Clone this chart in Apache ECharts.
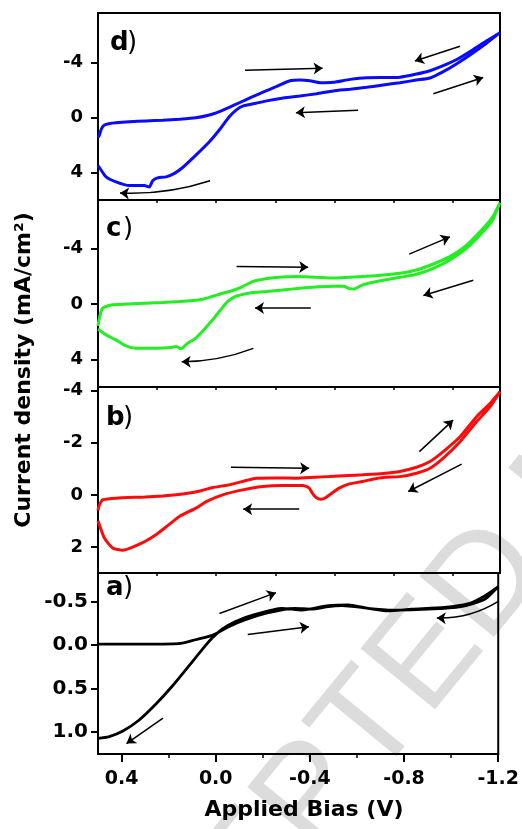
<!DOCTYPE html>
<html>
<head>
<meta charset="utf-8">
<script src="https://cdn.jsdelivr.net/npm/echarts@6/dist/echarts.min.js"></script>
<style>
  html, body { margin: 0; padding: 0; background: #fff; }
  #chart { width: 522px; height: 829px; }
</style>
</head>
<body>
<div id="chart"></div>
<script>
// Cyclic J–V scans of four films (a–d): current density vs applied bias.
// Each loop = forward scan (0.5 V -> -1.2 V) followed by the reverse scan.

const biasTicks = [0.4, 0.0, -0.4, -0.8, -1.2];
const biasMinorTicks = [0.2, -0.2, -0.6, -1.0];
const biasInnerTicks = [0.25, 0, -0.25, -0.5, -0.75, -1.0];

const dTicks = [-4, 0, 4];
const cTicks = [-4, 0, 4];
const bTicks = [-4, -2, 0, 2];
const aTicks = [-0.5, 0.0, 0.5, 1.0];

// panel d
const dForward = [
  [0.500, 1.45], [0.494, 1.29], [0.486, 0.85], [0.473, 0.56], [0.450, 0.45], [0.424, 0.39],
  [0.368, 0.32], [0.297, 0.26], [0.226, 0.20], [0.156, 0.13], [0.086, 0.03], [0.029, -0.17],
  [-0.013, -0.42], [-0.055, -0.73], [-0.100, -1.08], [-0.154, -1.50], [-0.200, -1.85],
  [-0.253, -2.23], [-0.309, -2.64], [-0.354, -2.71], [-0.396, -2.66], [-0.439, -2.52],
  [-0.495, -2.55], [-0.566, -2.76], [-0.636, -2.88], [-0.777, -2.92], [-0.847, -3.15],
  [-0.904, -3.39], [-0.960, -3.75], [-1.017, -4.20], [-1.087, -4.93], [-1.144, -5.56], [-1.200, -6.15]
];
const dReverse = [
  [-1.144, -5.40], [-1.087, -4.70], [-1.017, -3.90], [-0.960, -3.32], [-0.904, -2.86],
  [-0.847, -2.71], [-0.777, -2.52], [-0.706, -2.35], [-0.636, -2.18], [-0.566, -2.04],
  [-0.495, -1.92], [-0.425, -1.72], [-0.354, -1.55], [-0.284, -1.40], [-0.213, -1.20],
  [-0.168, -1.02], [-0.112, -0.82], [-0.084, -0.53], [-0.055, -0.04], [-0.013, 0.92],
  [0.029, 1.77], [0.086, 2.74], [0.142, 3.64], [0.177, 4.07], [0.212, 4.32], [0.248, 4.39],
  [0.269, 4.61], [0.283, 5.05], [0.304, 4.95], [0.368, 4.95], [0.424, 4.68], [0.466, 4.32],
  [0.494, 3.64], [0.500, 3.50]
];

// panel c
const cForward = [
  [0.500, 1.60], [0.497, 1.27], [0.488, 0.60], [0.480, 0.31], [0.460, 0.15], [0.438, 0.07],
  [0.368, 0.00], [0.297, -0.05], [0.226, -0.10], [0.156, -0.17], [0.100, -0.24], [0.057, -0.34],
  [0.015, -0.55], [-0.027, -0.77], [-0.070, -0.97], [-0.112, -1.25], [-0.154, -1.61],
  [-0.190, -1.75], [-0.224, -1.85], [-0.280, -1.94], [-0.337, -1.97], [-0.420, -1.93],
  [-0.495, -1.86], [-0.566, -1.93], [-0.636, -1.99], [-0.706, -2.08], [-0.777, -2.21],
  [-0.847, -2.45], [-0.918, -2.88], [-0.988, -3.41], [-1.059, -4.25], [-1.129, -5.46],
  [-1.170, -6.30], [-1.200, -7.30]
];
const cReverse = [
  [-1.170, -6.10], [-1.129, -5.22], [-1.059, -4.02], [-0.988, -3.17], [-0.918, -2.57],
  [-0.847, -2.14], [-0.777, -1.92], [-0.706, -1.70], [-0.636, -1.45], [-0.610, -1.30],
  [-0.585, -1.08], [-0.560, -1.12], [-0.537, -1.28], [-0.495, -1.27], [-0.420, -1.22],
  [-0.354, -1.13], [-0.280, -1.00], [-0.213, -0.90], [-0.168, -0.84], [-0.120, -0.72],
  [-0.084, -0.55], [-0.060, -0.32], [-0.041, -0.05], [0.015, 1.15], [0.086, 2.47],
  [0.121, 2.84], [0.149, 3.24], [0.170, 3.08], [0.191, 3.15], [0.255, 3.20], [0.339, 3.20],
  [0.382, 3.03], [0.424, 2.60], [0.466, 2.24], [0.497, 1.87], [0.500, 1.85]
];

// panel b
const bForward = [
  [0.500, 0.60], [0.497, 0.47], [0.488, 0.28], [0.480, 0.19], [0.424, 0.13], [0.300, 0.08],
  [0.226, 0.04], [0.170, 0.00], [0.114, -0.07], [0.060, -0.17], [0.015, -0.28], [-0.040, -0.36],
  [-0.084, -0.45], [-0.130, -0.56], [-0.168, -0.64], [-0.250, -0.65], [-0.337, -0.64],
  [-0.420, -0.68], [-0.478, -0.70], [-0.560, -0.74], [-0.619, -0.77], [-0.706, -0.82],
  [-0.777, -0.90], [-0.847, -1.06], [-0.904, -1.28], [-0.960, -1.66], [-1.031, -2.23],
  [-1.101, -3.00], [-1.158, -3.51], [-1.200, -3.96]
];
const bReverse = [
  [-1.158, -3.38], [-1.101, -2.81], [-1.031, -2.04], [-0.960, -1.41], [-0.904, -1.02],
  [-0.847, -0.83], [-0.777, -0.70], [-0.706, -0.67], [-0.660, -0.60], [-0.619, -0.51],
  [-0.563, -0.42], [-0.520, -0.26], [-0.485, -0.04], [-0.464, 0.10], [-0.443, 0.17],
  [-0.422, 0.10], [-0.407, -0.06], [-0.393, -0.26], [-0.366, -0.36], [-0.280, -0.36],
  [-0.196, -0.32], [-0.112, -0.19], [-0.027, 0.00], [0.040, 0.25], [0.086, 0.51],
  [0.156, 0.83], [0.205, 1.18], [0.255, 1.53], [0.300, 1.78], [0.339, 1.95], [0.396, 2.13],
  [0.438, 2.04], [0.473, 1.66], [0.497, 1.08], [0.500, 1.00]
];

// panel a
const aForward = [
  [0.500, -0.01], [0.368, -0.01], [0.226, -0.01], [0.142, -0.02], [0.086, -0.06], [0.015, -0.11],
  [-0.055, -0.21], [-0.126, -0.29], [-0.224, -0.37], [-0.337, -0.42], [-0.408, -0.41],
  [-0.478, -0.44], [-0.535, -0.45], [-0.619, -0.43], [-0.732, -0.39], [-0.831, -0.41],
  [-0.971, -0.43], [-1.070, -0.47], [-1.141, -0.56], [-1.200, -0.67]
];
const aReverse = [
  [-1.141, -0.52], [-1.042, -0.44], [-0.901, -0.41], [-0.760, -0.40], [-0.648, -0.42],
  [-0.563, -0.46], [-0.478, -0.45], [-0.366, -0.40], [-0.281, -0.42], [-0.168, -0.35],
  [-0.084, -0.27], [-0.027, -0.18], [0.015, -0.08], [0.057, 0.05], [0.114, 0.24],
  [0.184, 0.47], [0.255, 0.68], [0.325, 0.86], [0.396, 0.99], [0.452, 1.05], [0.500, 1.07]
];

// scan-direction arrows, [[from], [to]] in (bias, current density)
const dArrows = [
  [[-0.122, -3.42], [-0.450, -3.56]],
  [[-0.600, -0.51], [-0.337, -0.34]],
  [[-1.031, -5.16], [-0.840, -4.09]],
  [[-0.918, -1.72], [-1.129, -2.89]]
];
const dCurvedArrows = [[[0.026, 4.60], [0.407, 5.50]]];

const cArrows = [
  [[-0.086, -2.70], [-0.389, -2.65]],
  [[-0.400, 0.30], [-0.164, 0.30]],
  [[-0.816, -3.59], [-0.988, -4.84]],
  [[-1.087, -1.71], [-0.876, -0.61]]
];
const cCurvedArrows = [[[-0.157, 3.21], [0.146, 4.18]]];

const bArrows = [
  [[-0.062, -1.06], [-0.393, -1.02]],
  [[-0.351, 0.55], [-0.114, 0.55]],
  [[-0.859, -1.66], [-1.002, -2.87]],
  [[-1.038, -1.18], [-0.812, -0.13]]
];
const bCurvedArrows = [];

const aArrows = [
  [[-0.016, -0.36], [-0.256, -0.60]],
  [[-0.136, -0.12], [-0.396, -0.21]],
  [[0.224, 0.84], [0.379, 1.13]]
];
const aCurvedArrows = [[[-1.200, -0.50], [-0.939, -0.31]]];

const FONT = 'DejaVu Sans';

const panels = [
  { label: 'd', fwd: dForward, rev: dReverse, color: '#0a0aff', width: 3, yMin: -7.58, yMax: 6.0,
    ticks: dTicks, arrows: dArrows, curved: dCurvedArrows, curveness: 0.09, top: 13, height: 187,
    fmt: v => String(v), labelSize: 18, labelMargin: 15, labelX: 110, labelY: 43 },
  { label: 'c', fwd: cForward, rev: cReverse, color: '#22ee22', width: 3, yMin: -7.5, yMax: 6.0,
    ticks: cTicks, arrows: cArrows, curved: cCurvedArrows, curveness: 0.09, top: 200, height: 187,
    fmt: v => String(v), labelSize: 18, labelMargin: 15, labelX: 106, labelY: 229 },
  { label: 'b', fwd: bForward, rev: bReverse, color: '#ff0a0a', width: 3, yMin: -4.14, yMax: 3.0,
    ticks: bTicks, arrows: bArrows, curved: bCurvedArrows, curveness: 0, top: 387, height: 186,
    fmt: v => String(v), labelSize: 18, labelMargin: 15, labelX: 106, labelY: 418 },
  { label: 'a', fwd: aForward, rev: aReverse, color: '#000000', width: 2.8, yMin: -0.825, yMax: 1.25,
    ticks: aTicks, arrows: aArrows, curved: aCurvedArrows, curveness: 0.15, top: 573, height: 181,
    fmt: v => v.toFixed(1), labelSize: 20, labelMargin: 10, labelX: 106, labelY: 588 }
];

const last = panels.length - 1;
const black = '#000';

const grid = panels.map(p => ({
  left: 98, width: 402, top: p.top, height: p.height, z: 5,
  show: true, borderColor: black, borderWidth: 2, backgroundColor: 'transparent'
}));

const xAxis = panels.map((p, i) => ({
  type: 'value', gridIndex: i, min: -1.2, max: 0.5, inverse: true, position: 'bottom', z: 5,
  axisLine: { show: true, onZero: false, lineStyle: { color: black, width: 2 } },
  splitLine: { show: false },
  axisTick: i === last
    ? { show: true, inside: false, length: 8, customValues: biasTicks, lineStyle: { color: black, width: 2 } }
    : { show: true, inside: false, length: 3, customValues: biasInnerTicks, lineStyle: { color: black, width: 1.5 } },
  axisLabel: i === last
    ? { show: true, customValues: biasTicks, margin: 16, color: black, fontFamily: FONT,
        fontWeight: 'bold', fontSize: 19, formatter: v => v.toFixed(1) }
    : { show: false }
}));
// minor ticks on the bottom bias axis
xAxis.push({
  type: 'value', gridIndex: last, min: -1.2, max: 0.5, inverse: true, position: 'bottom', z: 5,
  axisLine: { show: false, onZero: false },
  splitLine: { show: false },
  axisTick: { show: true, inside: false, length: 4, customValues: biasMinorTicks, lineStyle: { color: black, width: 1.5 } },
  axisLabel: { show: false }
});

const yAxis = panels.map((p, i) => ({
  type: 'value', gridIndex: i, min: p.yMin, max: p.yMax, inverse: true, position: 'left', z: 5,
  axisLine: { show: true, onZero: false, lineStyle: { color: black, width: 2 } },
  splitLine: { show: false },
  axisTick: { show: true, inside: false, length: 7, customValues: p.ticks, lineStyle: { color: black, width: 2 } },
  axisLabel: { show: true, customValues: p.ticks, margin: p.labelMargin, color: black, fontFamily: FONT,
    fontWeight: 'bold', fontSize: p.labelSize, formatter: p.fmt }
}));

const series = [];
panels.forEach((p, i) => {
  series.push({
    type: 'line', xAxisIndex: i, yAxisIndex: i,
    data: p.fwd.concat(p.rev),
    showSymbol: false, symbol: 'none', smooth: 0.2, clip: true,
    lineStyle: { color: p.color, width: p.width },
    z: 6
  });
  series.push({
    type: 'lines', coordinateSystem: 'cartesian2d', xAxisIndex: i, yAxisIndex: i,
    symbol: ['none', 'arrow'], symbolSize: 9,
    lineStyle: { color: black, width: 1.5, curveness: 0, opacity: 1 },
    data: p.arrows.map(a => ({ coords: a })),
    z: 7
  });
  if (p.curved.length) {
    series.push({
      type: 'lines', coordinateSystem: 'cartesian2d', xAxisIndex: i, yAxisIndex: i,
      symbol: ['none', 'arrow'], symbolSize: 9,
      lineStyle: { color: black, width: 1.5, curveness: p.curveness, opacity: 1 },
      data: p.curved.map(a => ({ coords: a })),
      z: 7
    });
  }
});

function textEl(x, y, text, size, weight) {
  return {
    type: 'text', x, y, z: 100, silent: true,
    style: { text, fill: black, fontFamily: FONT, fontWeight: weight, fontSize: size,
      align: 'left', verticalAlign: 'middle' }
  };
}

const graphic = [
  {
    type: 'text', x: 585, y: 465, rotation: 0.885, z: 0, silent: true,
    style: { text: 'ACCEPTED MANUSCRIPT', fill: '#dcdcdc', fontFamily: 'Liberation Sans',
      fontSize: 140, align: 'center', verticalAlign: 'middle' }
  },
  {
    type: 'text', x: 304, y: 810, z: 100, silent: true,
    style: { text: 'Applied Bias (V)', fill: black, fontFamily: FONT, fontWeight: 'bold', fontSize: 22,
      align: 'center', verticalAlign: 'middle' }
  },
  {
    type: 'text', x: 24, y: 370, rotation: Math.PI / 2, z: 100, silent: true,
    style: { text: 'Current density (mA/cm²)', fill: black, fontFamily: FONT, fontWeight: 'bold', fontSize: 22,
      align: 'center', verticalAlign: 'middle' }
  }
];
// panel letters: bold letter followed by a plain parenthesis
panels.forEach(p => {
  graphic.push(textEl(p.labelX, p.labelY, p.label, 26, 'bold'));
  graphic.push(textEl(p.labelX + 17, p.labelY, ')', 26, 'normal'));
});

const chart = echarts.init(document.getElementById('chart'), null, { renderer: 'canvas' });
chart.setOption({
  animation: false,
  backgroundColor: '#fff',
  grid, xAxis, yAxis, series, graphic
});
</script>
</body>
</html>
